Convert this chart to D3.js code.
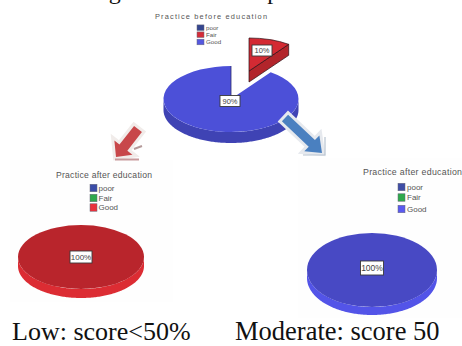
<!DOCTYPE html>
<html>
<head>
<meta charset="utf-8">
<script src="https://cdn.jsdelivr.net/npm/d3@7"></script>
<style>
html,body{margin:0;padding:0;background:#fff}
svg{display:block}
text{font-family:"Liberation Sans",Arial,sans-serif}
.cap{font-family:"Liberation Serif","Times New Roman",serif;fill:#111}
</style>
</head>
<body>
<svg id="fig" width="462" height="346"></svg>
<script>
// Practice level categories and shares for each pie
const categories = ["poor", "Fair", "Good"];
const beforeValues = [0, 10, 90];
const afterLowValues = [0, 0, 100];
const afterModerateValues = [0, 0, 100];

const beforeTitle = "Practice before education";
const afterTitle = "Practice after education";
const captionLow = "Low: score<50%";
const captionModerate = "Moderate: score 50";
const clippedLine = "during the total score practice.";

const svg = d3.select("#fig");
const TAU = Math.PI * 2;

const pieLayout = d3.pie().sort(null).value(d => d);
const ellipsePoint = (g, a, k = 1) => [g.rx * k * Math.sin(a), -g.ry * k * Math.cos(a)];

// Flat panel behind the two lower pies
function panel(x, y, w, h) {
  svg.append("rect").attr("x", x).attr("y", y).attr("width", w).attr("height", h).attr("fill", "#fefefe");
}
panel(10, 160, 163, 142);
panel(298, 158, 164, 160);

// Outer wall of a pie slice, limited to the part that faces the viewer
function wallPath(g, a0, a1) {
  const from = Math.max(a0, Math.PI / 2), to = Math.min(a1, Math.PI * 1.5);
  if (to <= from) return null;
  const angles = d3.range(from, to, 0.02).concat([to]);
  const top = angles.map(a => ellipsePoint(g, a));
  const bottom = top.map(p => [p[0], p[1] + g.depth]).reverse();
  return d3.line()(top.concat(bottom)) + "Z";
}

// One extruded pie with optional outlines and percentage labels
function drawPie(g, values, faceColors, wallColors, opts = {}) {
  const color = d3.scaleOrdinal().domain(categories).range(faceColors);
  const wall = d3.scaleOrdinal().domain(categories).range(wallColors);
  const total = d3.sum(values);
  const slices = pieLayout(values)
    .map((d, i) => ({ ...d, name: categories[i] }))
    .filter(d => d.value > 0);

  slices.forEach(d => {
    const off = (opts.explode && opts.explode[d.name]) || [0, 0];
    const grp = svg.append("g").attr("transform", `translate(${g.cx + off[0]},${g.cy + off[1]})`);
    const outline = off[0] !== 0 ? "#2a1015" : (opts.stroke || "none");
    const sw = off[0] !== 0 ? 0.7 : 0;

    // Cut face of a pulled-out slice
    if (off[0] !== 0) {
      const p = ellipsePoint(g, d.endAngle);
      grp.append("path")
        .attr("d", d3.line()([[0, 0], p, [p[0], p[1] + g.depth], [0, g.depth]]) + "Z")
        .attr("fill", wall(d.name)).attr("stroke", outline).attr("stroke-width", sw);
    }
    const w = wallPath(g, d.startAngle, d.endAngle);
    if (w) grp.append("path").attr("d", w).attr("fill", wall(d.name));

    const full = d.endAngle - d.startAngle >= TAU - 1e-6;
    grp.append("path")
      .attr("transform", `scale(1,${g.ry / g.rx})`)
      .attr("d", d3.arc().innerRadius(0).outerRadius(g.rx)(d))
      .attr("fill", color(d.name))
      .attr("stroke", outline).attr("stroke-width", sw)
      .attr("vector-effect", "non-scaling-stroke");

    // Left cut of the large slice shows as a dark vertical rule
    if (!full && off[0] === 0) {
      const p = ellipsePoint(g, d.endAngle);
      grp.append("line").attr("x1", 0).attr("y1", 0).attr("x2", p[0]).attr("y2", p[1])
        .attr("stroke", "#2c2c70").attr("stroke-width", 0.8);
    }
  });

  // Percentage tags
  slices.forEach(d => {
    const pos = opts.labels[d.name];
    const txt = d3.format(".0f")(d.value / total * 100) + "%";
    const tag = svg.append("g").attr("transform", `translate(${pos[0]},${pos[1]})`);
    tag.append("rect")
      .attr("x", -pos[2] / 2).attr("y", -pos[3] / 2).attr("width", pos[2]).attr("height", pos[3])
      .attr("fill", "#fff").attr("stroke", "#3a3a3a").attr("stroke-width", 0.9);
    tag.append("text").attr("text-anchor", "middle").attr("y", pos[4] * 0.36)
      .attr("font-size", pos[4]).attr("fill", "#444").text(txt);
  });
}

// Chart title plus its three-row key
function drawKey(title, tx, ty, tw, fs, sx, rows, sw, sh, colors, lx, lfs) {
  svg.append("text").attr("x", tx).attr("y", ty).attr("font-size", fs)
    .attr("textLength", tw).attr("lengthAdjust", "spacing").attr("fill", "#555").text(title);
  categories.forEach((c, i) => {
    svg.append("rect").attr("x", sx).attr("y", rows[i] - sh / 2).attr("width", sw).attr("height", sh)
      .attr("fill", colors[i]).attr("stroke", "#6a6a7a").attr("stroke-width", 0.5);
    svg.append("text").attr("x", lx).attr("y", rows[i] + lfs * 0.36).attr("font-size", lfs)
      .attr("fill", "#555").text(c);
  });
}

drawKey(beforeTitle, 155, 19, 112, 7.4, 197, [27.7, 34.7, 42], 7, 5.6, ["#34468f", "#d42c38", "#5558e0"], 206, 6.2);
drawKey(afterTitle, 56, 178, 96, 8.6, 90, [188, 198, 207.5], 7, 7.5, ["#3a4ca8", "#2fa84c", "#e8323c"], 98.5, 8);
drawKey(afterTitle, 363, 175, 99, 8.8, 398, [187, 197.5, 209], 7, 7.5, ["#3f4ea6", "#2fa84c", "#5a5af0"], 407, 8);

// Pre-education pie with the Fair slice pulled out
drawPie(
  { cx: 231, cy: 99, rx: 67.5, ry: 33, depth: 11 },
  beforeValues,
  ["#34468f", "#d32a33", "#4c50d8"],
  ["#2a3a78", "#b2252b", "#3f43b4"],
  {
    explode: { Fair: [18, -28] },
    labels: { Fair: [262, 50.5, 20, 11, 7.5], Good: [230, 101, 20, 11, 7.5] }
  }
);

// Post-education pies
drawPie(
  { cx: 81, cy: 257, rx: 63, ry: 32, depth: 9 },
  afterLowValues,
  ["#3a4ca8", "#2fa84c", "#b9252c"],
  ["#3a4ca8", "#2fa84c", "#dc2c33"],
  { labels: { Good: [81, 257, 22, 12, 8] } }
);
drawPie(
  { cx: 372, cy: 270, rx: 65, ry: 37, depth: 8 },
  afterModerateValues,
  ["#3f4ea6", "#2fa84c", "#4849c4"],
  ["#3f4ea6", "#2fa84c", "#5354e8"],
  { labels: { Good: [372, 268, 23, 14, 8.5] } }
);

// Block arrow running from tail to tip, with a pale bevel around it
function blockArrow(tail, tip, shaftW, headW, headL, fill, edge) {
  const dx = tip[0] - tail[0], dy = tip[1] - tail[1], len = Math.hypot(dx, dy);
  const ux = dx / len, uy = dy / len, nx = -uy, ny = ux;
  const at = (l, o) => [tail[0] + ux * l + nx * o, tail[1] + uy * l + ny * o];
  const base = len - headL;
  const pts = [at(0, shaftW / 2), at(base, shaftW / 2), at(base, headW / 2), at(len, 0),
               at(base, -headW / 2), at(base, -shaftW / 2), at(0, -shaftW / 2)];
  const line = d3.line();
  svg.append("path").attr("d", line(pts) + "Z").attr("fill", edge).attr("stroke", edge)
    .attr("stroke-width", 6).attr("stroke-linejoin", "miter");
  svg.append("path").attr("d", line(pts) + "Z").attr("fill", fill);
}

blockArrow([285, 118], [322, 153], 9, 22, 14, "#4a80c0", "#e6e9ee");
svg.append("path").attr("d", "M303 155 L325 155 L325 137").attr("fill", "none")
  .attr("stroke", "#b8c4d0").attr("stroke-width", 1.2);

blockArrow([138, 129], [116, 157], 10, 23, 12, "#c8474a", "#f1ecea");
svg.append("rect").attr("x", 115).attr("y", 158.5).attr("width", 24).attr("height", 2).attr("fill", "#c89a9c");
svg.append("line").attr("x1", 134).attr("y1", 149).attr("x2", 142).attr("y2", 146)
  .attr("stroke", "#b59a9a").attr("stroke-width", 2);

// Running text at the top and the two captions below
svg.append("text").attr("class", "cap").attr("x", 58).attr("y", -1).attr("font-size", 24).text(clippedLine);
svg.append("text").attr("class", "cap").attr("x", 12).attr("y", 340).attr("font-size", 26).text(captionLow);
svg.append("text").attr("class", "cap").attr("x", 235).attr("y", 340).attr("font-size", 26.5).text(captionModerate);
</script>
</body>
</html>
